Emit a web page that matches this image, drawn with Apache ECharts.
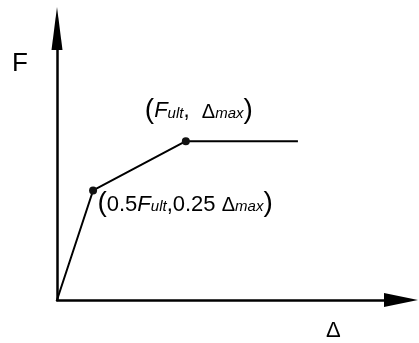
<!DOCTYPE html>
<html><head><meta charset="utf-8">
<script src="https://cdn.jsdelivr.net/npm/echarts@6/dist/echarts.min.js"></script>
<style>html,body{margin:0;padding:0;background:#fff}#c{width:419px;height:343px}</style>
</head><body><div id="c"></div>
<script>
// schematic force–displacement (trilinear) curve
const deltaValues = [0, 0.28, 1.0, 1.87];
const forceValues = [0, 0.69, 1.0, 1.0];
const markedPoints = [false, true, true, false];
const xAxisMax = 2.67;
const yAxisMax = 1.71;
const yAxisName = 'F';
const xAxisName = 'Δ';
const pointLabels = [
  '',
  '{p|(}{f|0.5}{fi|F}{s|ult}{f|,0.25 }{d|Δ}{s|max}{p|)}',
  '{p|(}{fi|F}{s|ult}{f|,  }{d|Δ}{s|max}{p|)}',
  ''
];

const FONT = '"Liberation Sans", Arial, sans-serif';
const chart = echarts.init(document.getElementById('c'), null, {renderer: 'canvas'});

const labelOffsets = [[0,0],[92,13],[13,-31],[0,0]];
const richStyles = {
  p: {fontSize: 28, fontFamily: FONT, color: '#000', verticalAlign: 'bottom'},
  f: {fontSize: 22, fontFamily: FONT, color: '#000', verticalAlign: 'bottom', padding: [0,0,2,0]},
  fi: {fontSize: 22, fontFamily: FONT, fontStyle: 'italic', color: '#000', verticalAlign: 'bottom', padding: [0,0,2,0]},
  s: {fontSize: 15, fontFamily: FONT, fontStyle: 'italic', color: '#000', verticalAlign: 'bottom', padding: [0,0,3,0]},
  d: {fontSize: 20, fontFamily: FONT, color: '#000', verticalAlign: 'bottom', padding: [0,0,2,0]}
};

const data = deltaValues.map((x, i) => ({
  value: [x, forceValues[i]],
  symbol: markedPoints[i] ? 'circle' : 'none',
  label: {
    show: pointLabels[i] !== '',
    formatter: pointLabels[i],
    position: 'inside',
    offset: labelOffsets[i],
    rich: richStyles
  }
}));

const axisCommon = {
  type: 'value',
  min: 0,
  axisTick: {show: false},
  axisLabel: {show: false},
  splitLine: {show: false}
};

chart.setOption({
  animation: false,
  backgroundColor: '#fff',
  grid: {left: 57, top: 28.5, right: 18, bottom: 43, containLabel: false},
  xAxis: Object.assign({}, axisCommon, {
    max: xAxisMax,
    axisLine: {show: true, symbol: ['none', 'triangle'], symbolSize: [14, 34],
      lineStyle: {color: '#000', width: 2.5}}
  }),
  yAxis: Object.assign({}, axisCommon, {
    max: yAxisMax,
    axisLine: {show: true, symbol: ['none', 'triangle'], symbolSize: [11, 43],
      lineStyle: {color: '#000', width: 2.5}}
  }),
  graphic: [
    {type: 'text', left: 12, top: 51, style: {text: yAxisName, font: '26px ' + FONT, fill: '#000'}},
    {type: 'text', left: 326, top: 320, style: {text: xAxisName, font: '22px ' + FONT, fill: '#000'}}
  ],
  series: [{
    type: 'line',
    data: data,
    symbolSize: 8,
    showSymbol: true,
    itemStyle: {color: '#111'},
    lineStyle: {color: '#000', width: 2},
    z: 3
  }]
});
</script></body></html>
